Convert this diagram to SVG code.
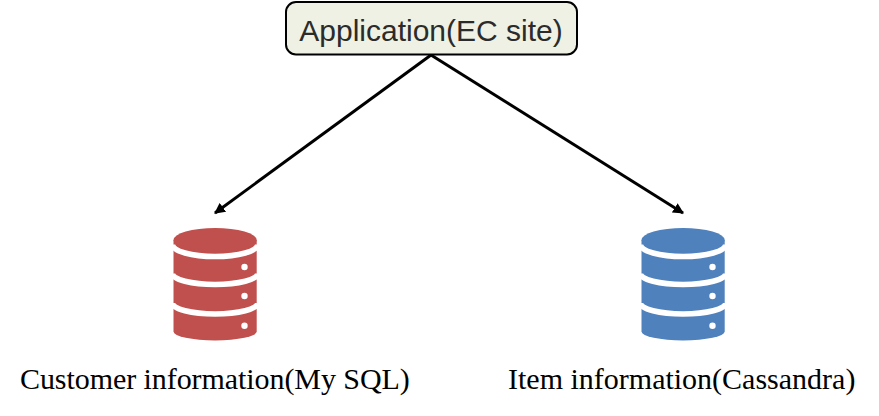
<svg xmlns="http://www.w3.org/2000/svg" width="879" height="416" viewBox="0 0 879 416">
<style>
.conn{fill:none;stroke:#000;stroke-width:3}
.label{font-family:"Liberation Serif",serif;font-size:30px;fill:#000}
.band{fill:none;stroke:#fff;stroke-width:5.5}
.dot{fill:#fff}
</style>
<defs>
<marker id="arrow" viewBox="0 0 10 10" refX="9" refY="5" markerWidth="3.6" markerHeight="3.6" orient="auto"><path d="M0 0L10 5L0 10Z" fill="#000"/></marker>
<g id="db">
<path d="M173.5 240V331.5A41.6 9 0 0 0 256.7 331.5V240Z"/>
<ellipse cx="215.1" cy="240" rx="41.6" ry="12"/>
<path class="band" d="M172.5 244.5A42.6 12 0 0 0 257.7 244.5"/>
<path class="band" d="M172.5 273.5A42.6 11 0 0 0 257.7 273.5"/>
<path class="band" d="M172.5 303A42.6 11 0 0 0 257.7 303"/>
<circle class="dot" cx="244.5" cy="267" r="3.2"/>
<circle class="dot" cx="244.5" cy="296" r="3.2"/>
<circle class="dot" cx="244.5" cy="325.7" r="3.2"/>
</g>
</defs>
<rect width="879" height="416" fill="#fff"/>
<g id="connectors">
<path class="conn" marker-end="url(#arrow)" d="M431 55L215 213"/>
<path class="conn" marker-end="url(#arrow)" d="M431 55L683 213"/>
</g>
<g id="app">
<rect x="286" y="2" width="291" height="52.5" rx="10" fill="#eef1e3" stroke="#000" stroke-width="2"/>
<text x="431" y="41" text-anchor="middle" style="font-family:'Liberation Sans',sans-serif;font-size:30px;fill:#2b2b2b">Application(EC site)</text>
</g>
<g id="customer-db">
<use href="#db" fill="#c0504d"/>
<text class="label" x="20" y="389" letter-spacing="-0.07">Customer information(My SQL)</text>
</g>
<g id="item-db">
<use href="#db" x="468" fill="#4f81bd"/>
<text class="label" x="508" y="389">Item information(Cassandra)</text>
</g>
</svg>
